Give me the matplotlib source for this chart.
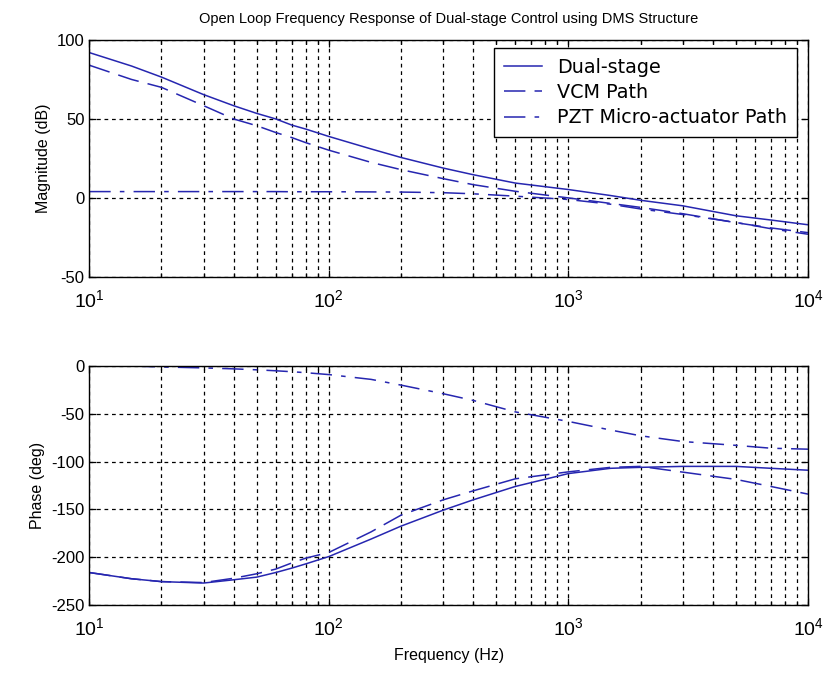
import matplotlib
matplotlib.use("Agg")
import matplotlib.pyplot as plt
import numpy as np
from matplotlib.ticker import LogLocator, NullFormatter

plt.rcParams['font.family'] = ['Liberation Sans', 'DejaVu Sans']
plt.rcParams['mathtext.fontset'] = 'custom'
plt.rcParams['mathtext.rm'] = 'Liberation Sans'
plt.rcParams['axes.unicode_minus'] = False

freq = [10, 15, 20, 30, 40, 50, 60, 70, 80, 100, 150, 200, 300, 400, 600, 1000,
        1500, 2000, 3000, 5000, 7000, 10000]

# Magnitude (dB)
mag_dual = [92, 83.5, 76.5, 65.4, 58.4, 53.5, 50, 46.1, 43.6, 38.9, 31, 25.6, 18.9, 14.7, 9.4, 5.3,
            1.5, -1.5, -5, -11.3, -14, -17]
mag_vcm  = [84, 75, 70, 58.4, 50, 45.7, 41.4, 38.2, 35, 30.2, 22.5, 17.9, 12.2, 8.4, 4.2, 0,
            -3.5, -6, -10, -15.7, -19, -22]
mag_pzt  = [4, 4, 4, 4, 4, 4, 4, 3.9, 3.9, 3.9, 3.8, 3.7, 3.3, 2.6, 1.1, -1,
            -4, -7, -10.5, -15.5, -19.5, -23]

# Phase (deg)
ph_dual = [-216, -222.5, -225.5, -227, -223.6, -220.8, -216, -211.4, -207, -199.3, -181, -167.5,
           -150.8, -140, -126, -112.5, -107, -106, -105, -105, -107, -109]
ph_vcm  = [-216, -222.5, -225.5, -226.5, -222, -217.3, -212.4, -206, -201, -195, -173.5, -156,
           -140, -130.6, -118, -110.7, -106, -105, -111, -118.6, -126, -134]
ph_pzt  = [0, 0, -1, -2, -3, -4, -5, -6, -7, -9, -14, -20,
           -29, -36, -48, -58, -67, -73, -79, -83, -86, -87]

legend_labels = ['Dual-stage', 'VCM Path', 'PZT Micro-actuator Path']
title = 'Open Loop Frequency Response of Dual-stage Control using DMS Structure'

color = '#2626b0'

fig = plt.figure(figsize=(8.29, 6.77), dpi=100)
ax1 = fig.add_axes([0.1077, 0.591, 0.867, 0.350])
ax2 = fig.add_axes([0.1077, 0.1063, 0.867, 0.3531])

def style(ax):
    ax.set_xscale('log')
    ax.set_xlim(10, 1e4)
    ax.xaxis.set_major_locator(LogLocator(base=10, numticks=10))
    ax.xaxis.set_minor_locator(LogLocator(base=10, subs=np.arange(2, 10), numticks=20))
    ax.xaxis.set_minor_formatter(NullFormatter())
    ax.grid(True, which='major', color='black', linestyle=(0, (3, 3)), linewidth=0.9)
    ax.grid(True, which='minor', axis='x', color='black', linestyle=(0, (3, 3)), linewidth=0.9)
    ax.tick_params(which='both', direction='in', top=True, right=True, labelsize=12, width=0.9)
    ax.tick_params(which='major', length=5)
    ax.tick_params(which='minor', length=3)
    ax.tick_params(axis='x', which='major', pad=9)
    for s in ax.spines.values():
        s.set_linewidth(1.0)
    ax.set_axisbelow(True)

l1, = ax1.plot(freq, mag_dual, color=color, lw=1.1, ls='-')
l2, = ax1.plot(freq, mag_vcm, color=color, lw=1.1, ls=(0, (14, 6)))
l3, = ax1.plot(freq, mag_pzt, color=color, lw=1.1, ls=(0, (14, 6, 3, 6)))
style(ax1)
ax1.set_ylim(-50, 100)
ax1.set_yticks([-50, 0, 50, 100])
ax1.set_ylabel('Magnitude (dB)', fontsize=11.5)
ax1.set_title(title, fontsize=10.5, pad=12)
leg = ax1.legend([l1, l2, l3], legend_labels, loc='upper right',
                 prop={'family': 'DejaVu Sans', 'size': 13.8},
                 frameon=True, fancybox=False, edgecolor='black', framealpha=1,
                 handlelength=2.0, borderpad=0.5, labelspacing=0.33,
                 handletextpad=0.8, borderaxespad=0,
                 bbox_to_anchor=(0.9847, 0.965))
leg.get_frame().set_linewidth(1.0)

ax2.plot(freq, ph_dual, color=color, lw=1.1, ls='-')
ax2.plot(freq, ph_vcm, color=color, lw=1.1, ls=(0, (14, 6)))
ax2.plot(freq, ph_pzt, color=color, lw=1.1, ls=(0, (14, 6, 3, 6)))
style(ax2)
ax2.set_ylim(-250, 0)
ax2.set_yticks([-250, -200, -150, -100, -50, 0])
ax2.set_ylabel('Phase (deg)', fontsize=11.5)
ax2.set_xlabel('Frequency (Hz)', fontsize=11.5, labelpad=6)

for ax in (ax1, ax2):
    for lab in ax.get_xticklabels():
        lab.set_fontsize(14)

fig.savefig('out.png', dpi=100)
